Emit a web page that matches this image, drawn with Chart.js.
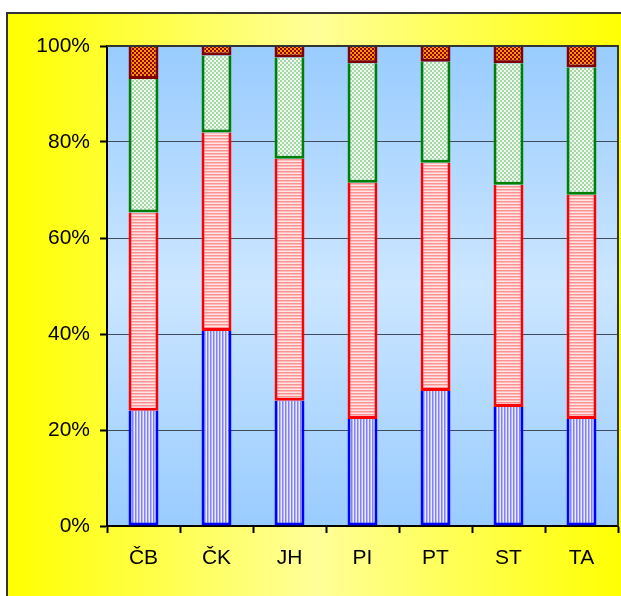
<!DOCTYPE html>
<html>
<head>
<meta charset="utf-8">
<script src="https://cdn.jsdelivr.net/npm/chart.js@4.4.1/dist/chart.umd.min.js"></script>
<style>
html, body { margin: 0; padding: 0; width: 621px; height: 596px; overflow: hidden; background: #fff; }
#frame {
	position: absolute; left: 6px; top: 12px; width: 617px; height: 600px;
	border-left: 2px solid #333; border-top: 2px solid #333;
	background: linear-gradient(to right, #ffff00 0%, #ffff99 50%, #ffff00 100%);
}
#wrap { position: absolute; left: 0; top: 0; width: 621px; height: 596px; }
</style>
</head>
<body>
<div id="frame"></div>
<div id="wrap"><canvas id="chart"></canvas></div>
<script>
// categories and shares (%), bottom segment first
const regions = ['ČB', 'ČK', 'JH', 'PI', 'PT', 'ST', 'TA'];
const part1 = [24.0, 40.6, 26.1, 22.3, 28.1, 24.8, 22.3];
const part2 = [41.3, 41.4, 50.4, 49.2, 47.6, 46.3, 46.7];
const part3 = [27.8, 16.0, 21.1, 24.9, 21.0, 25.3, 26.5];
const part4 = [6.9, 2.0, 2.4, 3.6, 3.3, 3.6, 4.5];
const yTicks = [0, 20, 40, 60, 80, 100];

// small tiled fills like the old office hatch patterns
function makePattern(w, h, paint) {
	const c = document.createElement('canvas');
	c.width = w;
	c.height = h;
	paint(c.getContext('2d'));
	return document.getElementById('chart').getContext('2d').createPattern(c, 'repeat');
}
const blueFill = makePattern(3, 1, function (g) {
	g.fillStyle = '#b4b4ff'; g.fillRect(0, 0, 3, 1);
	g.fillStyle = '#8080ff'; g.fillRect(0, 0, 1, 1);
	g.fillStyle = '#ececff'; g.fillRect(2, 0, 1, 1);
});
const redFill = makePattern(1, 3, function (g) {
	g.fillStyle = '#ffbcbc'; g.fillRect(0, 0, 1, 3);
	g.fillStyle = '#ff9090'; g.fillRect(0, 0, 1, 1);
	g.fillStyle = '#ffe6e6'; g.fillRect(0, 2, 1, 1);
});
const greenFill = makePattern(4, 4, function (g) {
	g.fillStyle = '#eef8ee'; g.fillRect(0, 0, 4, 4);
	g.fillStyle = '#a6d6a6'; g.fillRect(0, 0, 2, 2); g.fillRect(2, 2, 2, 2);
});
const brownFill = makePattern(4, 4, function (g) {
	g.fillStyle = '#ff9900'; g.fillRect(0, 0, 4, 4);
	g.fillStyle = '#990000'; g.fillRect(0, 0, 2, 2); g.fillRect(2, 2, 2, 2);
});

const plotArea = {
	id: 'plotArea',
	beforeDraw(chart) {
		const a = chart.chartArea, ctx = chart.ctx;
		const grad = ctx.createLinearGradient(0, a.top, 0, a.bottom);
		grad.addColorStop(0, '#99ccff');
		grad.addColorStop(0.5, '#cce6ff');
		grad.addColorStop(1, '#99ccff');
		ctx.save();
		ctx.fillStyle = grad;
		ctx.fillRect(a.left, a.top, a.right - a.left, a.bottom - a.top);
		ctx.restore();
	},
	afterDraw(chart) {
		const a = chart.chartArea, ctx = chart.ctx;
		ctx.save();
		ctx.strokeStyle = '#333';
		ctx.lineWidth = 2;
		ctx.beginPath();
		ctx.moveTo(a.left, a.top);
		ctx.lineTo(a.right, a.top);
		ctx.lineTo(a.right, a.bottom);
		ctx.stroke();
		ctx.restore();
	}
};

const labelFont = { family: "'Liberation Sans', Arial, sans-serif", size: 21 };

function segment(data, fill, edge) {
	return {
		data: data,
		backgroundColor: fill,
		borderColor: edge,
		borderWidth: 3,
		borderSkipped: 'end',
		barPercentage: 0.41,
		categoryPercentage: 1
	};
}

new Chart(document.getElementById('chart'), {
	type: 'bar',
	data: {
		labels: regions,
		datasets: [
			segment(part1, blueFill, '#0000ff'),
			segment(part2, redFill, '#ff0000'),
			segment(part3, greenFill, '#008000'),
			segment(part4, brownFill, '#800000')
		]
	},
	options: {
		responsive: true,
		maintainAspectRatio: false,
		animation: false,
		layout: { padding: { left: 0, top: 46, right: 3, bottom: 0 } },
		plugins: { legend: { display: false }, tooltip: { enabled: false } },
		scales: {
			x: {
				stacked: true,
				grid: { offset: true, drawOnChartArea: false, tickLength: 7, tickColor: '#000', tickWidth: 2 },
				border: { color: '#000', width: 2 },
				ticks: { font: labelFont, color: '#000', padding: 13 },
				afterFit(s) { s.height = 70; }
			},
			y: {
				stacked: true,
				min: 0,
				max: 100,
				afterBuildTicks(s) { s.ticks = yTicks.map(v => ({ value: v })); },
				grid: { color: '#404a5a', lineWidth: 1, tickLength: 7, tickColor: '#000', tickWidth: 2 },
				border: { color: '#000', width: 2 },
				ticks: { font: labelFont, color: '#000', padding: 10, callback: v => v + '%' },
				afterFit(s) { s.width = 107; }
			}
		}
	},
	plugins: [plotArea]
});
</script>
</body>
</html>
